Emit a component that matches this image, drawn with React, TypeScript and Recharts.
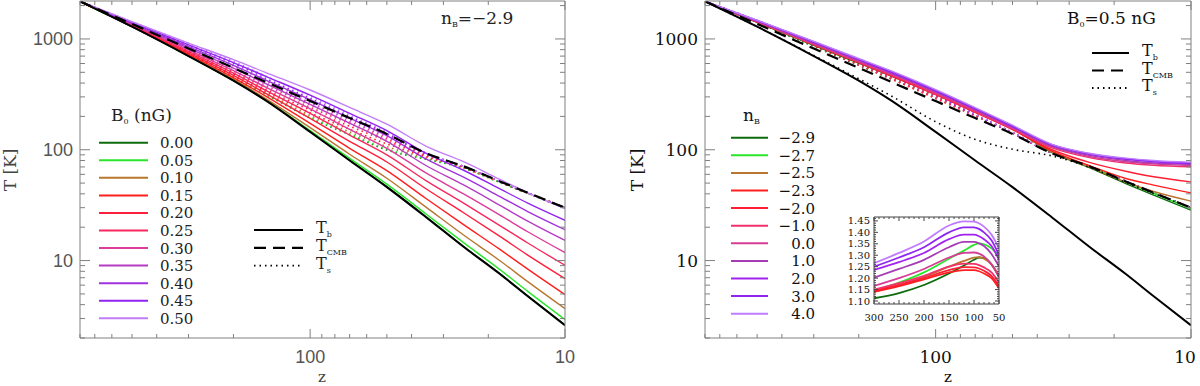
import React from 'react';
import { LineChart, Line, XAxis, YAxis } from 'recharts';

// redshift grid shared by both panels (z decreases to the right)
const zGrid = [800, 500, 300, 200, 150, 100, 70, 50, 35, 25, 18, 14, 10];
const tCmb = [2183, 1365, 820, 548, 411, 275, 193, 139, 92.7, 70.9, 51.8, 40.9, 30.0];
const tbStandard = [2183, 1290, 700, 420, 280, 145, 80, 46, 24.5, 13.3, 7.55, 4.76, 2.6];
const tsStandard = [2183, 1291, 710, 437, 308, 179, 124, 101, 88, 69.5, 50.8, 40.4, 29.8];

// left panel: nB = -2.9, B0 varies
const b0Labels = ['0.00', '0.05', '0.10', '0.15', '0.20', '0.25', '0.30', '0.35', '0.40', '0.45', '0.50'];
const b0Colors = ['#0c6b0c', '#2ae62a', '#b8762f', '#ff1e1e', '#ff1e3c', '#f8285e', '#dc3c9c', '#b63cc4', '#a232dc', '#9223f2', '#c37cf8'];
const leftTb = [
  [2183, 1291, 701, 421, 281, 146, 80.8, 46.5, 24.8, 13.4, 7.62, 4.8, 2.62],
  [2183, 1292, 703, 423, 283, 149, 83.6, 48.9, 26.2, 14.5, 8.28, 5.27, 2.93],
  [2183, 1299.5, 713, 433, 291, 158.5, 91.1, 55.3, 30.2, 17.0, 9.96, 6.45, 3.68],
  [2183, 1310, 728, 448, 306, 173, 103, 64.8, 36.1, 21.1, 12.6, 8.37, 4.93],
  [2183, 1323, 749, 468, 324, 191.5, 119, 77.5, 44.2, 27.0, 16.5, 11.2, 6.87],
  [2183, 1338, 772, 491, 345, 213, 135.7, 90, 52.4, 33.0, 20.7, 14.4, 9.07],
  [2183, 1354, 797, 517, 369, 234, 153, 103, 61.4, 39.9, 25.7, 18.2, 11.8],
  [2183, 1372, 824, 546, 397, 257, 173.7, 119, 71.7, 48.1, 31.5, 22.7, 15.2],
  [2183, 1390, 853.5, 578, 428, 283, 193, 134, 82.2, 56.6, 37.8, 27.7, 19.0],
  [2183, 1408.5, 884.5, 612, 462, 311, 213.4, 149, 92.6, 65.3, 44.3, 33.0, 23.1],
  [2183, 1430, 918, 650, 500, 346, 241, 170, 107.5, 78, 53.9, 40.9, 29.5],
];
const leftTs = [
  [2183, 1292, 710, 438, 317, 194, 137, 99.4, 82.0, 68.2, 50.6, 40.3, 29.7],
  [2183, 1293, 712, 440, 318, 196, 139, 101.6, 82.7, 68.4, 50.7, 40.4, 29.7],
  [2183, 1300, 721, 449, 325, 204, 145, 106.7, 84.4, 68.9, 50.9, 40.5, 29.8],
  [2183, 1311, 735, 462, 337, 215, 153, 113, 86.3, 69.4, 51.2, 40.6, 29.8],
  [2183, 1324, 754.5, 480, 350.5, 228, 163, 120, 88.1, 69.8, 51.4, 40.7, 29.9],
  [2183, 1338, 776, 500, 366, 242, 171.5, 125, 89.5, 70.1, 51.5, 40.8, 29.9],
  [2183, 1354, 799, 522, 383, 254, 179, 130, 90.6, 70.4, 51.6, 40.8, 29.9],
  [2183, 1372, 824, 546, 402, 266, 187, 134.5, 91.4, 70.6, 51.7, 40.9, 30.0],
  [2183, 1389, 851, 573, 422, 279, 193, 138, 92.1, 70.7, 51.7, 40.9, 30.0],
  [2183, 1407, 879.5, 600, 442, 291, 199, 141, 92.7, 70.8, 51.8, 40.9, 30.0],
  [2183, 1429, 910, 630, 464, 305, 206, 144, 93.3, 71.0, 51.8, 40.9, 30.0],
];

// right panel: B0 = 0.5 nG, nB varies
const nbLabels = ['\u22122.9', '\u22122.7', '\u22122.5', '\u22122.3', '\u22122.0', '\u22121.0', '0.0', '1.0', '2.0', '3.0', '4.0'];
const nbColors = ['#0c6b0c', '#2ae62a', '#b8762f', '#ff1e1e', '#ff1e32', '#f2306a', '#d63c96', '#a63cb4', '#a223f0', '#8e25f0', '#c07cff'];
const rightTb = [
  [2183, 1411, 875, 604, 465, 321, 224, 156, 94, 69, 49.5, 39, 28.5],
  [2183, 1424, 891, 622, 481, 332, 232, 163.5, 96, 71, 51, 40.5, 29.5],
  [2183, 1422, 889, 615, 473, 323, 224, 156.5, 95, 70, 51, 42, 34.4],
  [2183, 1422, 889, 612, 466, 314, 217, 152, 97, 72, 55, 48, 40.8],
  [2183, 1424, 891, 614, 469, 316, 218.5, 153, 100, 77, 64, 57, 51.3],
  [2183, 1426, 894, 617, 473, 318, 220, 154, 104, 85, 76, 72.5, 70.2],
  [2183, 1433, 902, 627, 483, 326, 225, 156, 106, 87, 78, 74.5, 72],
  [2183, 1448, 919, 640, 494, 334, 230, 160, 108, 89, 80, 76, 74],
  [2183, 1462, 936, 650, 502, 339, 234, 162, 110, 91, 82, 78, 75],
  [2183, 1467, 943, 658, 510, 345, 237, 164, 111, 92, 83, 79, 76],
  [2183, 1474, 950, 666, 517, 349, 240, 166.5, 112, 93, 84, 80, 77],
];
const rightTs = [
  [2183, 1410, 853, 577, 437, 297, 205, 142, 92.8, 70.9, 51.8, 40.9, 30.0],
  [2183, 1423, 869, 594, 452, 307, 207, 143, 92.9, 70.9, 51.8, 40.9, 30.0],
  [2183, 1421, 867, 587, 445, 299, 205, 142, 92.8, 70.9, 51.8, 40.9, 30.0],
  [2183, 1421, 867, 584, 438, 290, 202, 141, 92.9, 70.9, 51.8, 40.9, 30.0],
  [2183, 1423, 869, 586, 441, 292, 203, 142, 93.0, 71.0, 51.8, 40.9, 30.0],
  [2183, 1425, 872, 589, 445, 294, 203, 142, 93.2, 71.0, 51.9, 40.9, 30.0],
  [2183, 1431, 879, 599, 454, 302, 205, 142, 93.2, 71.0, 51.9, 40.9, 30.0],
  [2183, 1446, 896, 611, 464, 309, 207, 143, 93.3, 71.0, 51.9, 40.9, 30.0],
  [2183, 1460, 913, 621, 472, 314, 208, 143, 93.4, 71.1, 51.9, 41.0, 30.0],
  [2183, 1465, 919, 628, 479, 319, 209, 143, 93.4, 71.1, 51.9, 41.0, 30.0],
  [2183, 1472, 926, 636, 486, 323, 210, 144, 93.5, 71.1, 51.9, 41.0, 30.0],
];

// inset: ratio curves, z from 300 to 50
const insetZ = [300, 250, 200, 150, 120, 100, 90, 80, 65, 50];
const insetRatio = [
  [1.112, 1.135, 1.17, 1.22, 1.255, 1.28, 1.29, 1.288, 1.26, 1.206],
  [1.145, 1.18, 1.225, 1.285, 1.32, 1.345, 1.352, 1.348, 1.33, 1.294],
  [1.14, 1.17, 1.205, 1.25, 1.275, 1.29, 1.292, 1.285, 1.26, 1.21],
  [1.14, 1.165, 1.195, 1.225, 1.235, 1.235, 1.23, 1.22, 1.2, 1.155],
  [1.145, 1.17, 1.2, 1.235, 1.248, 1.247, 1.242, 1.232, 1.21, 1.165],
  [1.15, 1.178, 1.21, 1.25, 1.263, 1.262, 1.257, 1.247, 1.225, 1.18],
  [1.166, 1.2, 1.24, 1.29, 1.31, 1.312, 1.307, 1.295, 1.26, 1.206],
  [1.202, 1.24, 1.28, 1.335, 1.358, 1.358, 1.352, 1.34, 1.305, 1.25],
  [1.236, 1.27, 1.31, 1.37, 1.39, 1.39, 1.383, 1.37, 1.34, 1.28],
  [1.25, 1.29, 1.335, 1.4, 1.422, 1.422, 1.415, 1.4, 1.365, 1.3],
  [1.265, 1.31, 1.36, 1.43, 1.448, 1.447, 1.44, 1.425, 1.39, 1.33],
];

const xTicks = [800, 700, 600, 500, 400, 300, 200, 100, 90, 80, 70, 60, 50, 40, 30, 20, 10];
const xMajor = [100, 10];
const yTicks = [2, 3, 4, 5, 6, 7, 8, 9, 10, 20, 30, 40, 50, 60, 70, 80, 90, 100, 200, 300, 400, 500, 600, 700, 800, 900, 1000, 2000];
const yMajor = [10, 100, 1000];
const insetXTicks = [300, 290, 280, 270, 260, 250, 240, 230, 220, 210, 200, 190, 180, 170, 160, 150, 140, 130, 120, 110, 100, 90, 80, 70, 60, 50];
const insetXMajor = [300, 250, 200, 150, 100, 50];
const insetYTicks = [1.1, 1.11, 1.12, 1.13, 1.14, 1.15, 1.16, 1.17, 1.18, 1.19, 1.2, 1.21, 1.22, 1.23, 1.24, 1.25, 1.26, 1.27, 1.28, 1.29, 1.3, 1.31, 1.32, 1.33, 1.34, 1.35, 1.36, 1.37, 1.38, 1.39, 1.4, 1.41, 1.42, 1.43, 1.44, 1.45, 1.46];
const insetYMajor = [1.1, 1.15, 1.2, 1.25, 1.3, 1.35, 1.4, 1.45];

const SERIF = '"DejaVu Serif", serif';
const SANS = '"Liberation Sans", Arial, sans-serif';
const GREY = '#808080';

const buildRows = (tb: number[][], ts: number[][]) =>
  zGrid.map((z, i) => {
    const row: Record<string, number> = { z, tcmb: tCmb[i], tbStd: tbStandard[i], tsStd: tsStandard[i] };
    tb.forEach((arr, k) => (row['tb' + k] = arr[i]));
    ts.forEach((arr, k) => (row['ts' + k] = arr[i]));
    return row;
  });
const leftRows = buildRows(leftTb, leftTs);
const rightRows = buildRows(rightTb, rightTs);
const insetRows = insetZ.map((z, i) => {
  const row: Record<string, number> = { z };
  insetRatio.forEach((arr, k) => (row['r' + k] = arr[i]));
  return row;
});

type Side = 'bottom' | 'top' | 'left' | 'right';
interface TickOpts {
  majors: number[];
  majorLen: number;
  minorLen: number;
  stroke: string;
  label?: { font: string; size: number; color: string; offset: number; maxX?: number; fmt?: (v: number) => string };
}

// inward IDL-style ticks, labels outside
function makeTick(side: Side, o: TickOpts) {
  return (props: any) => {
    const { x, y, payload } = props;
    const v = payload.value;
    const major = o.majors.includes(v);
    const len = major ? o.majorLen : o.minorLen;
    let x2 = x, y2 = y;
    if (side === 'bottom') y2 = y - len;
    if (side === 'top') y2 = y + len;
    if (side === 'left') x2 = x + len;
    if (side === 'right') x2 = x - len;
    let text = null;
    if (o.label && major) {
      const l = o.label;
      const s = l.fmt ? l.fmt(v) : String(v);
      if (side === 'bottom') {
        const tx = l.maxX !== undefined ? Math.min(x, l.maxX) : x;
        text = (
          <text x={tx} y={y + l.offset} textAnchor="middle" fontFamily={l.font} fontSize={l.size} fill={l.color}>
            {s}
          </text>
        );
      } else if (side === 'left') {
        text = (
          <text x={x - l.offset} y={y} dy="0.36em" textAnchor="end" fontFamily={l.font} fontSize={l.size} fill={l.color}>
            {s}
          </text>
        );
      }
    }
    return (
      <g>
        <line x1={x} y1={y} x2={x2} y2={y2} stroke={o.stroke} strokeWidth={1} />
        {text}
      </g>
    );
  };
}

const axisCommon = { type: 'number' as const, allowDataOverflow: true, interval: 0 as const, tickSize: 0, tickMargin: 0 };

function Panel({ rows, side }: { rows: any[]; side: 'left' | 'right' }) {
  const isLeft = side === 'left';
  const colors = isLeft ? b0Colors : nbColors;
  const lbl = isLeft
    ? { font: SANS, size: 18, color: '#555' }
    : { font: SERIF, size: 17, color: '#111' };
  const xLab = { ...lbl, offset: 25, maxX: isLeft ? undefined : 585 };
  const yLab = { ...lbl, offset: 7 };
  const xt = { majors: xMajor, majorLen: 9, minorLen: 4, stroke: GREY };
  const yt = { majors: yMajor, majorLen: 10, minorLen: 5, stroke: GREY };
  const common = { xAxisId: 'b', yAxisId: 'l', dot: false, isAnimationActive: false, type: 'monotone' as const };
  return (
    <LineChart width={600} height={386} data={rows} margin={{ top: 0, right: 0, bottom: 0, left: 0 }}>
      <XAxis xAxisId="b" dataKey="z" {...axisCommon} scale="log" domain={[10, 800]} reversed ticks={xTicks} height={48} stroke={GREY} tick={makeTick('bottom', { ...xt, label: xLab })} />
      <XAxis xAxisId="t" orientation="top" dataKey="z" {...axisCommon} scale="log" domain={[10, 800]} reversed ticks={xTicks} height={1} stroke={GREY} tick={makeTick('top', xt)} />
      <YAxis yAxisId="l" {...axisCommon} scale="log" domain={[2, 2200]} ticks={yTicks} width={isLeft ? 80 : 105} stroke={GREY} tick={makeTick('left', { ...yt, label: yLab })} />
      <YAxis yAxisId="r" orientation="right" {...axisCommon} scale="log" domain={[2, 2200]} ticks={yTicks} width={isLeft ? 35 : 9} stroke={GREY} tick={makeTick('right', yt)} />
      {colors.map((c, k) => (
        <Line key={'ts' + k} {...common} dataKey={'ts' + k} stroke={c} strokeWidth={1.6} strokeDasharray="1.5 3.5" />
      ))}
      {colors.map((c, k) => (
        <Line key={'tb' + k} {...common} dataKey={'tb' + k} stroke={c} strokeWidth={1.4} />
      ))}
      <Line {...common} dataKey="tbStd" stroke="#000" strokeWidth={2} />
      {!isLeft && <Line {...common} dataKey="tsStd" stroke="#000" strokeWidth={1.6} strokeDasharray="1.5 4" />}
      <Line {...common} dataKey="tcmb" stroke="#000" strokeWidth={2.2} strokeDasharray="12 7" />
    </LineChart>
  );
}

function Inset() {
  const xt = { majors: insetXMajor, majorLen: 4, minorLen: 2, stroke: '#444' };
  const yt = { majors: insetYMajor, majorLen: 4, minorLen: 2, stroke: '#444' };
  const lab = { font: SERIF, size: 10, color: '#111' };
  const common = { xAxisId: 'b', yAxisId: 'l', dot: false, isAnimationActive: false, type: 'monotone' as const };
  return (
    <LineChart width={175} height={125} data={insetRows} margin={{ top: 0, right: 0, bottom: 0, left: 0 }}>
      <XAxis xAxisId="b" dataKey="z" {...axisCommon} domain={[50, 300]} reversed ticks={insetXTicks} height={28} stroke="#444" tick={makeTick('bottom', { ...xt, label: { ...lab, offset: 17 } })} />
      <XAxis xAxisId="t" orientation="top" dataKey="z" {...axisCommon} domain={[50, 300]} reversed ticks={insetXTicks} height={10} stroke="#444" tick={makeTick('top', xt)} />
      <YAxis yAxisId="l" {...axisCommon} domain={[1.087, 1.467]} ticks={insetYTicks} width={44} stroke="#444" tick={makeTick('left', { ...yt, label: { ...lab, offset: 4, fmt: (v: number) => v.toFixed(2) } })} />
      <YAxis yAxisId="r" orientation="right" {...axisCommon} domain={[1.087, 1.467]} ticks={insetYTicks} width={6} stroke="#444" tick={makeTick('right', yt)} />
      {nbColors.map((c, k) => (
        <Line key={k} {...common} dataKey={'r' + k} stroke={c} strokeWidth={1.8} />
      ))}
    </LineChart>
  );
}

const T = (x: number, y: number, sub: string, fill: string) => (
  <text x={x} y={y} fontFamily={SERIF} fontSize={16} fill={fill}>
    T<tspan fontSize={8} dy={4}>{sub}</tspan>
  </text>
);

function Overlay() {
  const styleRows = [
    { dash: undefined, w: 2, sub: 'b' },
    { dash: '12 7', w: 2.2, sub: 'CMB' },
    { dash: '1.5 4', w: 1.8, sub: 's' },
  ];
  return (
    <svg width={1200} height={386} style={{ position: 'absolute', left: 0, top: 0, pointerEvents: 'none' }}>
      {/* left panel texts */}
      <text x={10} y={170} transform="rotate(-90 10 170)" dy="0.36em" textAnchor="middle" fontFamily={SERIF} fontSize={17} fill="#444">T [K]</text>
      <text x={322} y={382} textAnchor="middle" fontFamily={SERIF} fontSize={15} fill="#444">z</text>
      <text x={441} y={24} fontFamily={SERIF} fontSize={17} fill="#222">
        n<tspan fontSize={8} dy={3}>B</tspan><tspan dy={-3}>{'=\u22122.9'}</tspan>
      </text>
      <text x={111} y={121} fontFamily={SERIF} fontSize={17} fill="#222">
        B<tspan fontSize={8} dy={3}>0</tspan><tspan dy={-3}> (nG)</tspan>
      </text>
      {b0Labels.map((l, i) => {
        const y = 142.7 + i * 17.56;
        return (
          <g key={l}>
            <line x1={99} x2={148} y1={y} y2={y} stroke={b0Colors[i]} strokeWidth={2} />
            <text x={160} y={y + 5.5} fontFamily={SERIF} fontSize={15} fill="#222">{l}</text>
          </g>
        );
      })}
      {styleRows.map((s, i) => {
        const y = 230 + i * 17.8;
        return (
          <g key={s.sub}>
            <line x1={254} x2={303} y1={y} y2={y} stroke="#000" strokeWidth={s.w} strokeDasharray={s.dash} />
            {T(316, y + 3, s.sub, '#222')}
          </g>
        );
      })}

      {/* right panel texts */}
      <text x={637} y={170} transform="rotate(-90 637 170)" dy="0.36em" textAnchor="middle" fontFamily={SERIF} fontSize={17} fill="#111">T [K]</text>
      <text x={948} y={382} textAnchor="middle" fontFamily={SERIF} fontSize={15} fill="#111">z</text>
      <text x={1067} y={24} fontFamily={SERIF} fontSize={17} fill="#111">
        B<tspan fontSize={8} dy={3}>0</tspan><tspan dy={-3}>=0.5 nG</tspan>
      </text>
      <text x={743} y={121} fontFamily={SERIF} fontSize={17} fill="#111">
        n<tspan fontSize={8} dy={3}>B</tspan>
      </text>
      {nbLabels.map((l, i) => {
        const y = 137.7 + i * 17.6;
        return (
          <g key={l}>
            <line x1={731} x2={768} y1={y} y2={y} stroke={nbColors[i]} strokeWidth={2} />
            <text x={815} y={y + 5.5} textAnchor="end" fontFamily={SERIF} fontSize={15} fill="#111">{l}</text>
          </g>
        );
      })}
      {styleRows.map((s, i) => {
        const y = 53 + i * 17.5;
        return (
          <g key={'r' + s.sub}>
            <line x1={1092} x2={1129} y1={y} y2={y} stroke="#000" strokeWidth={s.w} strokeDasharray={s.dash} />
            {T(1142, y + 3, s.sub, '#111')}
          </g>
        );
      })}
    </svg>
  );
}

export default function App() {
  return (
    <div style={{ position: 'absolute', left: 0, top: 0, width: 1200, height: 386, background: '#fff' }}>
      <div style={{ position: 'absolute', left: 0, top: 0 }}>
        <Panel rows={leftRows} side="left" />
      </div>
      <div style={{ position: 'absolute', left: 600, top: 0 }}>
        <Panel rows={rightRows} side="right" />
      </div>
      <div style={{ position: 'absolute', left: 830, top: 207 }}>
        <Inset />
      </div>
      <Overlay />
    </div>
  );
}
